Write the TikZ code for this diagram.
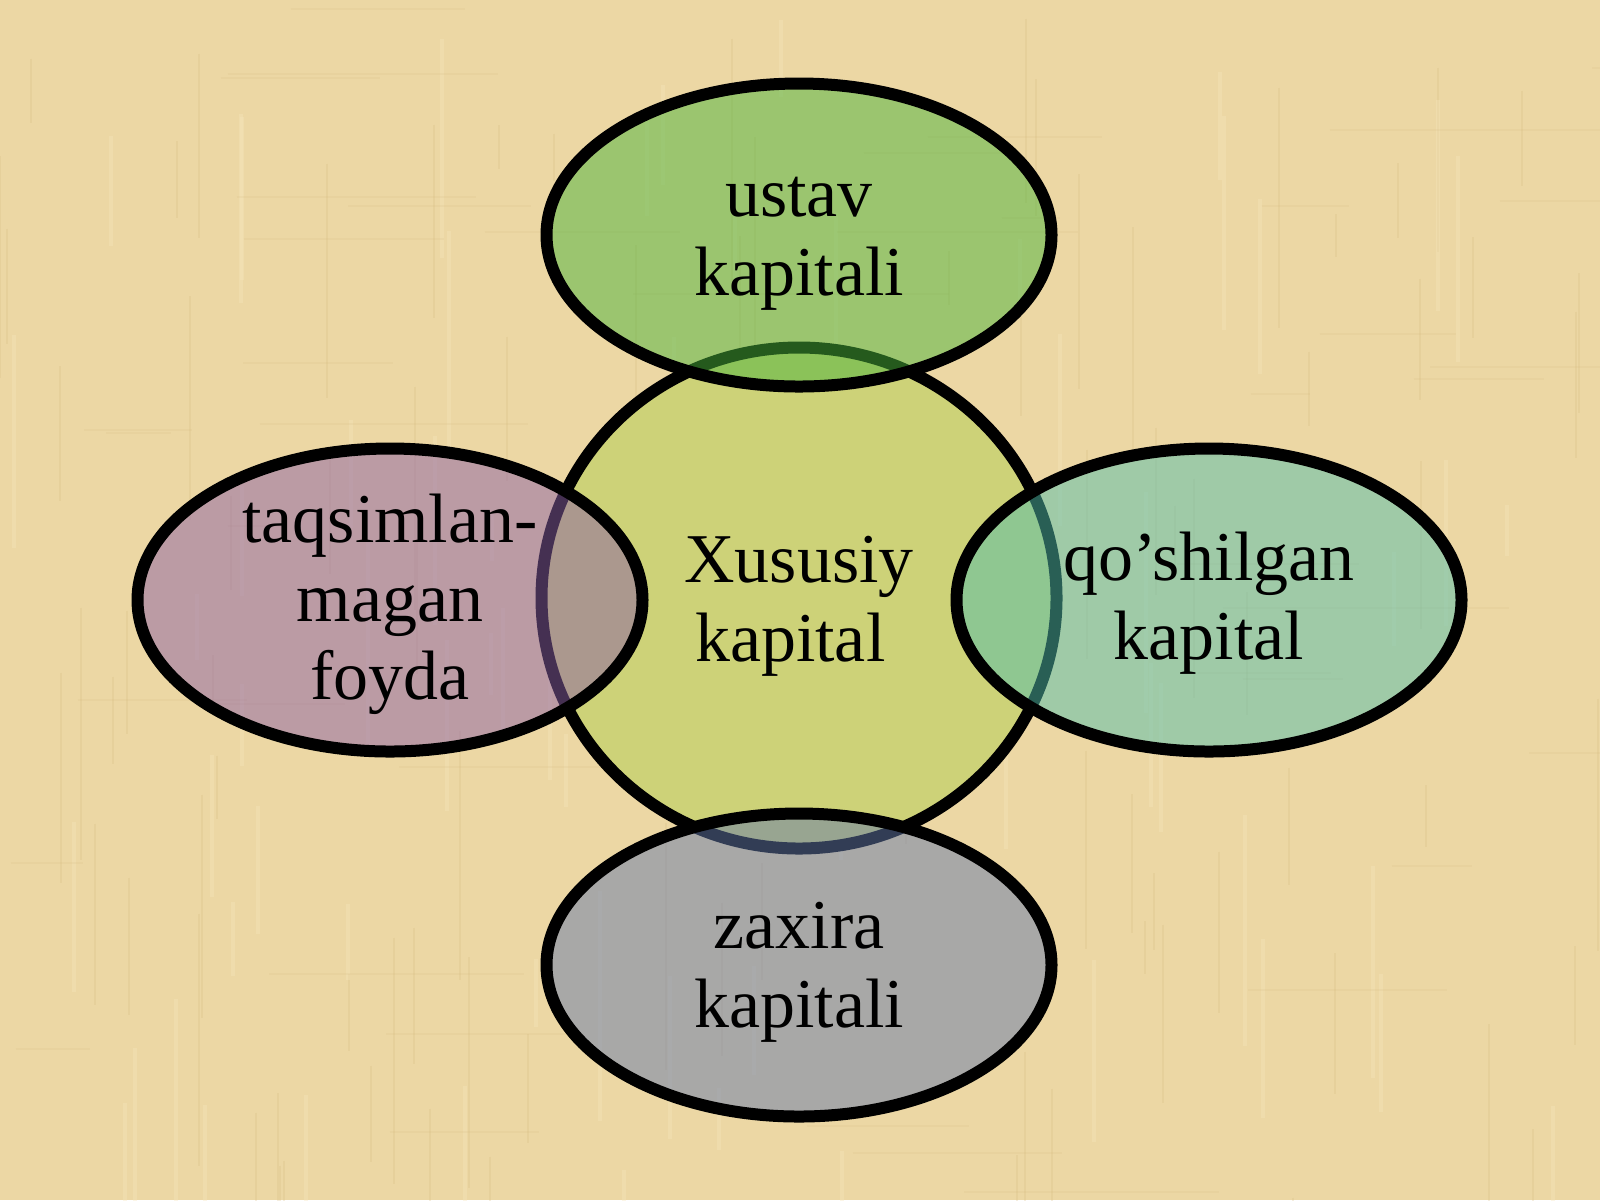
\documentclass[tikz,border=0pt]{standalone}
\usepackage{fontspec}
\setmainfont{Liberation Serif}
\usetikzlibrary{shapes.geometric,calc}
\definecolor{bgbeige}{RGB}{236,215,164}
\definecolor{bgdark}{RGB}{214,188,130}
\definecolor{bglight}{RGB}{246,230,188}
\definecolor{centerfill}{RGB}{205,210,120}
\definecolor{topfill}{RGB}{75,180,59}
\definecolor{rightfill}{RGB}{83,190,171}
\definecolor{bottomfill}{RGB}{101,122,171}
\definecolor{leftfill}{RGB}{139,96,165}
\tikzset{
  blob/.style={ellipse, draw=black, line width=0.12cm, inner sep=0pt},
  sidebl/.style={blob, minimum width=5.05cm, minimum height=3.03cm,
    fill opacity=0.5, draw opacity=1},
  lbl/.style={align=center, inner sep=0pt, text=black,
    font=\fontsize{19.9pt}{22.4pt}\selectfont},
}
\begin{document}
\begin{tikzpicture}
\fill[bgbeige] (0,0) rectangle (16,-12);
\useasboundingbox (0,0) rectangle (16,-12);
% faint paper texture
\pgfmathsetseed{7}
\foreach \i in {1,...,90}{
  \pgfmathsetmacro{\xx}{rnd*16}
  \pgfmathsetmacro{\yy}{-rnd*12}
  \pgfmathsetmacro{\ll}{0.4+rnd*2.2}
  \draw[bgdark, opacity=0.25, line width=0.02cm] (\xx,\yy) -- ++(0,-\ll);
}
\foreach \i in {1,...,70}{
  \pgfmathsetmacro{\xx}{rnd*16}
  \pgfmathsetmacro{\yy}{-rnd*12}
  \pgfmathsetmacro{\ll}{0.4+rnd*2.0}
  \draw[bglight, opacity=0.35, line width=0.04cm] (\xx,\yy) -- ++(0,-\ll);
}
\foreach \i in {1,...,50}{
  \pgfmathsetmacro{\xx}{rnd*16}
  \pgfmathsetmacro{\yy}{-rnd*12}
  \pgfmathsetmacro{\ll}{0.5+rnd*2.5}
  \draw[bgdark, opacity=0.16, line width=0.02cm] (\xx,\yy) -- ++(\ll,0);
}
\node[blob, fill=centerfill, minimum width=5.15cm, minimum height=5.01cm] (c) at (7.99,-5.98) {};
\node[sidebl, fill=topfill] (t) at (7.99,-2.35) {};
\node[sidebl, fill=rightfill] (r) at (12.09,-6.00) {};
\node[sidebl, fill=bottomfill] (b) at (7.99,-9.65) {};
\node[sidebl, fill=leftfill] (l) at (3.90,-6.00) {};
\node[lbl] (ct) at ($(c)+(0,-0.085)$) {Xususiy\\kapital\hspace*{0.25em}};
\node[lbl] (tt) at ($(t)+(0,-0.09)$) {ustav\\kapitali};
\node[lbl] (rt) at ($(r)+(0,-0.035)$) {qo’shilgan\\kapital};
\node[lbl] (bt) at ($(b)+(0,-0.075)$) {zaxira\\kapitali};
\node[lbl] (lt) at ($(l)+(0,-0.045)$) {taqsimlan-\\magan\\foyda};
\end{tikzpicture}
\end{document}
